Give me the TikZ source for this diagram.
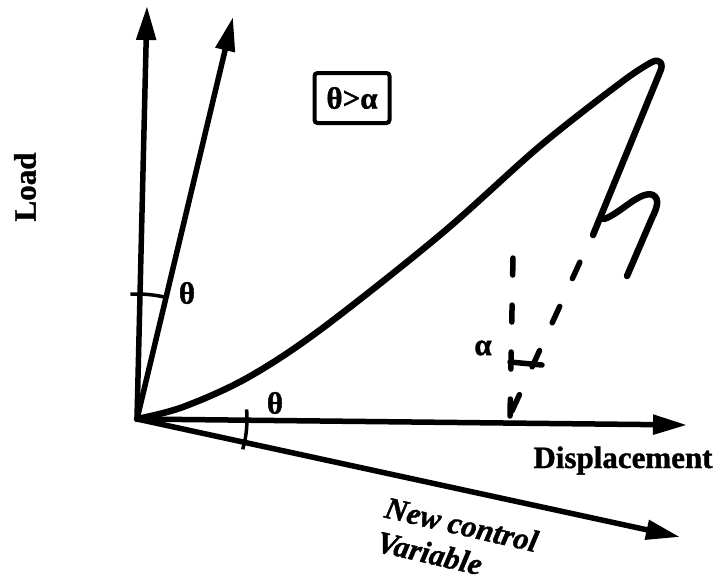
\documentclass[tikz,border=0pt]{standalone}
\usepackage{fontspec}
\setmainfont{Liberation Serif}[BoldFeatures={FakeBold=1.2}, BoldItalicFeatures={FakeBold=1.2}]
\usetikzlibrary{arrows.meta}

\begin{document}
\begin{tikzpicture}[x=1pt, y=-1pt,
    axis/.style={line width=5.5pt, -{Triangle[length=34pt, width=19pt]}},
    curve/.style={line width=6.5pt, line cap=round, line join=round},
    dashline/.style={line width=5.5pt, line cap=round},
    lbl/.style={font=\fontsize{31}{35}\selectfont\bfseries, inner sep=0pt},
    slant/.style={font=\fontsize{31}{35}\selectfont\bfseries\itshape, inner sep=0pt}]
  \useasboundingbox (0,0) rectangle (715,581);
  % origin and the tips of the axes
  \coordinate (O) at (137,419);
  \coordinate (loadtip) at (147,6);
  \coordinate (newtip) at (233,17);
  \coordinate (disptip) at (687,425);
  \coordinate (ctrltip) at (680,537);
  % axes
  \draw[axis] (O) -- (loadtip);
  \draw[axis] (O) -- (newtip);
  \draw[axis] (O) -- (disptip);
  \draw[axis] (O) -- (ctrltip);
  % angle marks
  \draw[line width=3.5pt] (O) ++(-93:125) arc[start angle=-93, end angle=-76, radius=125];
  \draw[line width=3.5pt] (O) ++(-5:110) arc[start angle=-5, end angle=16, radius=110];
  % load-displacement curve
  \draw[curve] plot[smooth, tension=0.55] coordinates {(137,419) (183,407) (247,378) (320,330)
      (440,235) (540,146) (623,81) (652,62)}
    .. controls (660,58) and (664,64) .. (660,72) -- (593,235);
  \draw[curve] (604,219) .. controls (620,214) and (640,190) .. (653,195)
    .. controls (660,199) and (657,208) .. (652,218) -- (627,276);
  % dashed guides
  \coordinate (vbot) at (510,416);
  \coordinate (vtop) at (513,257);
  \coordinate (sbot) at (512,411);
  \coordinate (stop) at (590,240);
  \draw[dashline, dash pattern=on 17pt off 30pt] (vbot) -- (vtop);
  \draw[dashline, dash pattern=on 18pt off 30.5pt] (sbot) -- (stop);
  \draw[dashline] (510,362) -- (542,365);
  % labels
  \node[lbl, rotate=90] (load) at (25,187) {Load};
  \node[lbl, anchor=base] (disp) at (623,468) {Displacement};
  \node[slant, rotate=-13, align=left, anchor=north west] (ctrl) at (388,496) {New control\\Variable};
  \node[lbl] (th1) at (187,293) {θ};
  \node[lbl] (th2) at (275,403) {θ};
  \node[lbl] (al) at (483,348) {α};
  \node[lbl, draw, line width=4pt, rounded corners=3pt,
        minimum width=75pt, minimum height=50pt] (cond) at (352,98) {θ>α};
\end{tikzpicture}
\end{document}
